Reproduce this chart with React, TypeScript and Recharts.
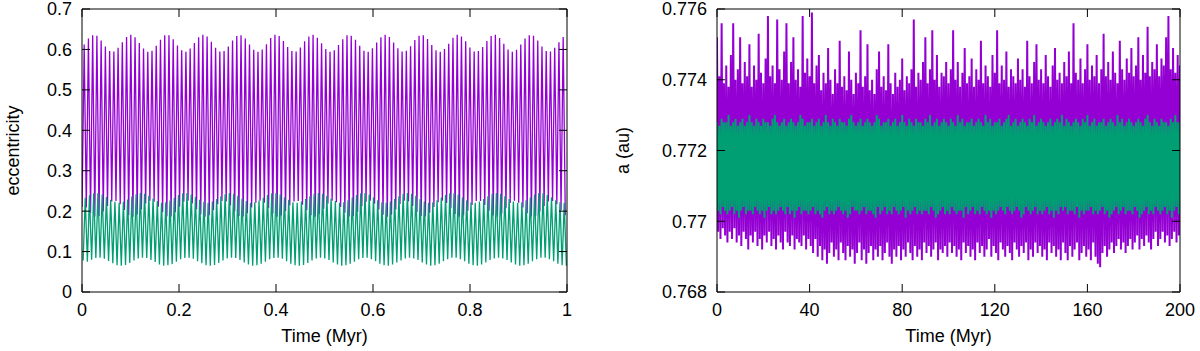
import { LineChart, Line, XAxis, YAxis } from 'recharts';

const FONT = '"Liberation Sans", Arial, Helvetica, sans-serif';
const FS = 18;
const TICK_LEN = 8;
const PURPLE = '#9400d3';
const GREEN = '#009e73';

// ---- left panel: eccentricity, one peak + one trough per cycle ----
const eccStep = 0.00874; // Myr between successive peaks
const purpleFirstPeak = 0.0045;
const greenFirstPeak = 0.0067;

const purplePeaks = [
  0.612, 0.627, 0.635, 0.634, 0.622, 0.607, 0.596, 0.595, 0.604, 0.618,
  0.631, 0.636, 0.630, 0.616, 0.602, 0.594, 0.597, 0.609, 0.624, 0.635,
  0.635, 0.625, 0.610, 0.598, 0.594, 0.602, 0.616, 0.630, 0.636, 0.632,
  0.619, 0.604, 0.595, 0.596, 0.607, 0.622, 0.633, 0.635, 0.627, 0.612,
  0.599, 0.594, 0.600, 0.613, 0.628, 0.636, 0.633, 0.621, 0.606, 0.596,
  0.595, 0.605, 0.620, 0.632, 0.636, 0.629, 0.615, 0.601, 0.594, 0.598,
  0.611, 0.625, 0.635, 0.634, 0.624, 0.609, 0.597, 0.594, 0.603, 0.617,
  0.630, 0.636, 0.631, 0.617, 0.603, 0.595, 0.597, 0.608, 0.623, 0.634,
  0.635, 0.626, 0.611, 0.598, 0.594, 0.601, 0.614, 0.629, 0.636, 0.632,
  0.620, 0.605, 0.595, 0.596, 0.606, 0.621, 0.633, 0.636, 0.628, 0.614,
  0.600, 0.594, 0.599, 0.612, 0.627, 0.635, 0.634, 0.622, 0.607, 0.596,
  0.595, 0.604, 0.618, 0.631,
];
const purpleTroughs = [
  0.210,
  0.209, 0.195, 0.187, 0.188, 0.199, 0.213, 0.224, 0.225, 0.217, 0.203,
  0.190, 0.186, 0.192, 0.205, 0.219, 0.226, 0.223, 0.211, 0.197, 0.187,
  0.187, 0.197, 0.211, 0.223, 0.226, 0.219, 0.205, 0.192, 0.186, 0.190,
  0.202, 0.217, 0.225, 0.224, 0.214, 0.199, 0.188, 0.187, 0.195, 0.209,
  0.221, 0.226, 0.221, 0.208, 0.194, 0.186, 0.189, 0.200, 0.214, 0.224,
  0.225, 0.216, 0.202, 0.190, 0.186, 0.193, 0.206, 0.219, 0.226, 0.222,
  0.210, 0.196, 0.187, 0.188, 0.198, 0.212, 0.223, 0.226, 0.218, 0.204,
  0.191, 0.186, 0.191, 0.204, 0.218, 0.226, 0.224, 0.213, 0.198, 0.188,
  0.187, 0.196, 0.210, 0.222, 0.226, 0.220, 0.207, 0.193, 0.186, 0.189,
  0.201, 0.215, 0.225, 0.225, 0.215, 0.201, 0.189, 0.186, 0.194, 0.207,
  0.220, 0.226, 0.221, 0.209, 0.195, 0.187, 0.188, 0.199, 0.213, 0.224,
  0.225, 0.217, 0.203, 0.190,
];
const greenPeaks = [
  0.233, 0.239, 0.244, 0.245, 0.241, 0.235, 0.228, 0.223, 0.221, 0.223,
  0.229, 0.236, 0.242, 0.245, 0.243, 0.238, 0.231, 0.225, 0.221, 0.222,
  0.226, 0.233, 0.240, 0.244, 0.245, 0.241, 0.235, 0.228, 0.223, 0.221,
  0.224, 0.230, 0.237, 0.242, 0.245, 0.243, 0.238, 0.231, 0.225, 0.221,
  0.222, 0.226, 0.233, 0.240, 0.244, 0.245, 0.241, 0.234, 0.228, 0.222,
  0.221, 0.224, 0.230, 0.237, 0.243, 0.245, 0.243, 0.238, 0.231, 0.225,
  0.221, 0.222, 0.227, 0.234, 0.240, 0.244, 0.245, 0.241, 0.234, 0.227,
  0.222, 0.221, 0.224, 0.230, 0.237, 0.243, 0.245, 0.243, 0.238, 0.230,
  0.224, 0.221, 0.222, 0.227, 0.234, 0.240, 0.244, 0.244, 0.241, 0.234,
  0.227, 0.222, 0.221, 0.224, 0.230, 0.237, 0.243, 0.245, 0.243, 0.237,
  0.230, 0.224, 0.221, 0.222, 0.227, 0.234, 0.241, 0.245, 0.244, 0.240,
  0.234, 0.227, 0.222, 0.221,
];
const greenTroughs = [
  0.078,
  0.075, 0.080, 0.084, 0.085, 0.082, 0.077, 0.071, 0.066, 0.065, 0.067,
  0.072, 0.078, 0.083, 0.085, 0.084, 0.079, 0.074, 0.068, 0.065, 0.066,
  0.069, 0.075, 0.081, 0.084, 0.085, 0.082, 0.076, 0.071, 0.066, 0.065,
  0.067, 0.072, 0.078, 0.083, 0.085, 0.084, 0.079, 0.073, 0.068, 0.065,
  0.066, 0.070, 0.075, 0.081, 0.084, 0.085, 0.082, 0.076, 0.070, 0.066,
  0.065, 0.067, 0.072, 0.078, 0.083, 0.085, 0.083, 0.079, 0.073, 0.068,
  0.065, 0.066, 0.070, 0.075, 0.081, 0.084, 0.085, 0.081, 0.076, 0.070,
  0.066, 0.065, 0.068, 0.073, 0.078, 0.083, 0.085, 0.083, 0.079, 0.073,
  0.068, 0.065, 0.066, 0.070, 0.076, 0.081, 0.085, 0.085, 0.081, 0.076,
  0.070, 0.066, 0.065, 0.068, 0.073, 0.079, 0.083, 0.085, 0.083, 0.079,
  0.073, 0.068, 0.065, 0.066, 0.070, 0.076, 0.081, 0.085, 0.085, 0.081,
  0.076, 0.070, 0.066, 0.065,
];

const eccTicks = [0, 0.1, 0.2, 0.3, 0.4, 0.5, 0.6, 0.7];
const eccTickLabels = ['0', '0.1', '0.2', '0.3', '0.4', '0.5', '0.6', '0.7'];
const shortTimeTicks = [0, 0.2, 0.4, 0.6, 0.8, 1];
const shortTimeLabels = ['0', '0.2', '0.4', '0.6', '0.8', '1'];

// ---- right panel: semi-major axis, sampled every 1 Myr (hi at t, lo at t+0.5) ----
const aStep = 1;
const purpleHi = [
  0.7752, 0.7741, 0.7756, 0.7739, 0.7744, 0.7738, 0.7747, 0.7756, 0.7740, 0.7743,
  0.7752, 0.7739, 0.7745, 0.7741, 0.7750, 0.7738, 0.7744, 0.7740, 0.7753, 0.7742,
  0.7739, 0.7746, 0.7758, 0.7741, 0.7744, 0.7739, 0.7757, 0.7743, 0.7740, 0.7748,
  0.7756, 0.7739, 0.7745, 0.7752, 0.7740, 0.7743, 0.7738, 0.7758, 0.7742, 0.7746,
  0.7741, 0.7759, 0.7739, 0.7744, 0.7747, 0.7737, 0.7742, 0.7739, 0.7749, 0.7740,
  0.7736, 0.7743, 0.7739, 0.7751, 0.7738, 0.7741, 0.7737, 0.7748, 0.7740, 0.7736,
  0.7742, 0.7739, 0.7754, 0.7738, 0.7741, 0.7750, 0.7737, 0.7740, 0.7736, 0.7743,
  0.7748, 0.7738, 0.7741, 0.7737, 0.7750, 0.7739, 0.7736, 0.7742, 0.7738, 0.7740,
  0.7746, 0.7737, 0.7741, 0.7739, 0.7743, 0.7757, 0.7738, 0.7742, 0.7740, 0.7745,
  0.7752, 0.7739, 0.7743, 0.7754, 0.7740, 0.7747, 0.7738, 0.7742, 0.7741, 0.7745,
  0.7739, 0.7743, 0.7754, 0.7740, 0.7745, 0.7738, 0.7742, 0.7749, 0.7739, 0.7741,
  0.7746, 0.7738, 0.7743, 0.7740, 0.7751, 0.7739, 0.7744, 0.7741, 0.7738, 0.7747,
  0.7742, 0.7754, 0.7739, 0.7744, 0.7740, 0.7748, 0.7738, 0.7743, 0.7741, 0.7739,
  0.7746, 0.7740, 0.7743, 0.7738, 0.7751, 0.7741, 0.7739, 0.7745, 0.7750, 0.7740,
  0.7743, 0.7739, 0.7747, 0.7741, 0.7738, 0.7744, 0.7749, 0.7740, 0.7742, 0.7739,
  0.7745, 0.7741, 0.7748, 0.7739, 0.7756, 0.7742, 0.7740, 0.7746, 0.7739, 0.7743,
  0.7750, 0.7740, 0.7744, 0.7741, 0.7747, 0.7739, 0.7743, 0.7753, 0.7741, 0.7745,
  0.7740, 0.7748, 0.7742, 0.7739, 0.7751, 0.7743, 0.7740, 0.7746, 0.7742, 0.7749,
  0.7741, 0.7744, 0.7752, 0.7740, 0.7747, 0.7742, 0.7755, 0.7741, 0.7745, 0.7743,
  0.7750, 0.7741, 0.7746, 0.7744, 0.7752, 0.7758, 0.7743, 0.7749, 0.7742, 0.7747,
  0.7744,
];
const purpleLo = [
  0.7697, 0.7695, 0.7698, 0.7696, 0.7694, 0.7697, 0.7695, 0.7698, 0.7694, 0.7696,
  0.7693, 0.7697, 0.7695, 0.7692, 0.7696, 0.7694, 0.7697, 0.7693, 0.7695, 0.7692,
  0.7696, 0.7694, 0.7697, 0.7693, 0.7695, 0.7692, 0.7696, 0.7694, 0.7692, 0.7697,
  0.7694, 0.7693, 0.7696, 0.7692, 0.7695, 0.7694, 0.7693, 0.7696, 0.7692, 0.7695,
  0.7693, 0.7691, 0.7695, 0.7690, 0.7693, 0.7689, 0.7692, 0.7688, 0.7691, 0.7694,
  0.7690, 0.7692, 0.7689, 0.7694, 0.7691, 0.7689, 0.7693, 0.7690, 0.7692, 0.7688,
  0.7691, 0.7694, 0.7689, 0.7692, 0.7688, 0.7691, 0.7693, 0.7689, 0.7692, 0.7690,
  0.7693, 0.7689, 0.7691, 0.7694, 0.7690, 0.7688, 0.7692, 0.7690, 0.7693, 0.7689,
  0.7692, 0.7690, 0.7694, 0.7691, 0.7689, 0.7693, 0.7690, 0.7692, 0.7689, 0.7694,
  0.7691, 0.7693, 0.7690, 0.7692, 0.7694, 0.7689, 0.7692, 0.7691, 0.7693, 0.7690,
  0.7694, 0.7691, 0.7693, 0.7690, 0.7692, 0.7689, 0.7694, 0.7691, 0.7693, 0.7690,
  0.7692, 0.7689, 0.7694, 0.7691, 0.7693, 0.7690, 0.7692, 0.7695, 0.7690, 0.7693,
  0.7691, 0.7689, 0.7694, 0.7692, 0.7690, 0.7693, 0.7691, 0.7689, 0.7694, 0.7692,
  0.7690, 0.7693, 0.7691, 0.7694, 0.7689, 0.7692, 0.7690, 0.7694, 0.7691, 0.7693,
  0.7690, 0.7692, 0.7689, 0.7694, 0.7691, 0.7693, 0.7690, 0.7692, 0.7689, 0.7694,
  0.7691, 0.7689, 0.7693, 0.7690, 0.7692, 0.7694, 0.7689, 0.7691, 0.7693, 0.7690,
  0.7692, 0.7689, 0.7694, 0.7690, 0.7688, 0.7687, 0.7691, 0.7693, 0.7690, 0.7692,
  0.7694, 0.7691, 0.7693, 0.7695, 0.7692, 0.7694, 0.7691, 0.7693, 0.7695, 0.7692,
  0.7694, 0.7696, 0.7692, 0.7695, 0.7693, 0.7696, 0.7694, 0.7692, 0.7695, 0.7697,
  0.7693, 0.7695, 0.7697, 0.7694, 0.7696, 0.7693, 0.7695, 0.7697, 0.7694, 0.7696,
];
const greenHi = [
  0.7728, 0.7727, 0.7729, 0.7728, 0.7728, 0.7730, 0.7727, 0.7728, 0.7729, 0.7727,
  0.7728, 0.7729, 0.7727, 0.7728, 0.7730, 0.7728, 0.7727, 0.7729, 0.7728, 0.7727,
  0.7729, 0.7728, 0.7728, 0.7727, 0.7729, 0.7730, 0.7728, 0.7727, 0.7728, 0.7729,
  0.7727, 0.7728, 0.7729, 0.7728, 0.7727, 0.7728, 0.7730, 0.7729, 0.7727, 0.7728,
  0.7728, 0.7729, 0.7727, 0.7728, 0.7729, 0.7727, 0.7728, 0.7730, 0.7728, 0.7727,
  0.7729, 0.7728, 0.7727, 0.7729, 0.7728, 0.7728, 0.7727, 0.7729, 0.7730, 0.7728,
  0.7727, 0.7728, 0.7729, 0.7727, 0.7728, 0.7729, 0.7728, 0.7727, 0.7728, 0.7730,
  0.7729, 0.7727, 0.7728, 0.7728, 0.7729, 0.7727, 0.7728, 0.7729, 0.7727, 0.7728,
  0.7730, 0.7728, 0.7727, 0.7729, 0.7728, 0.7727, 0.7729, 0.7728, 0.7728, 0.7727,
  0.7729, 0.7728, 0.7730, 0.7727, 0.7728, 0.7729, 0.7727, 0.7728, 0.7729, 0.7728,
  0.7727, 0.7729, 0.7728, 0.7727, 0.7730, 0.7728, 0.7729, 0.7727, 0.7728, 0.7728,
  0.7729, 0.7727, 0.7728, 0.7729, 0.7728, 0.7727, 0.7730, 0.7728, 0.7729, 0.7727,
  0.7728, 0.7728, 0.7729, 0.7727, 0.7728, 0.7729, 0.7730, 0.7727, 0.7728, 0.7729,
  0.7727, 0.7728, 0.7729, 0.7728, 0.7727, 0.7729, 0.7728, 0.7730, 0.7727, 0.7728,
  0.7729, 0.7728, 0.7727, 0.7728, 0.7729, 0.7727, 0.7728, 0.7729, 0.7728, 0.7730,
  0.7727, 0.7729, 0.7728, 0.7727, 0.7728, 0.7729, 0.7728, 0.7727, 0.7729, 0.7728,
  0.7730, 0.7727, 0.7728, 0.7729, 0.7727, 0.7728, 0.7728, 0.7729, 0.7727, 0.7728,
  0.7729, 0.7728, 0.7727, 0.7730, 0.7728, 0.7729, 0.7727, 0.7728, 0.7729, 0.7728,
  0.7727, 0.7728, 0.7729, 0.7728, 0.7727, 0.7729, 0.7730, 0.7728, 0.7727, 0.7729,
  0.7728, 0.7727, 0.7729, 0.7728, 0.7728, 0.7727, 0.7729, 0.7728, 0.7730, 0.7728,
  0.7728,
];
const greenLo = [
  0.7703, 0.7702, 0.7704, 0.7703, 0.7702, 0.7703, 0.7704, 0.7702, 0.7703, 0.7701,
  0.7703, 0.7704, 0.7702, 0.7703, 0.7703, 0.7702, 0.7704, 0.7703, 0.7702, 0.7703,
  0.7701, 0.7703, 0.7704, 0.7702, 0.7703, 0.7702, 0.7703, 0.7704, 0.7703, 0.7702,
  0.7704, 0.7702, 0.7703, 0.7701, 0.7703, 0.7704, 0.7702, 0.7703, 0.7703, 0.7702,
  0.7703, 0.7704, 0.7702, 0.7703, 0.7702, 0.7701, 0.7703, 0.7704, 0.7702, 0.7703,
  0.7702, 0.7703, 0.7704, 0.7703, 0.7702, 0.7703, 0.7701, 0.7702, 0.7704, 0.7703,
  0.7703, 0.7702, 0.7703, 0.7704, 0.7702, 0.7703, 0.7703, 0.7702, 0.7701, 0.7704,
  0.7702, 0.7703, 0.7704, 0.7702, 0.7703, 0.7702, 0.7704, 0.7703, 0.7702, 0.7703,
  0.7704, 0.7701, 0.7703, 0.7702, 0.7703, 0.7704, 0.7702, 0.7703, 0.7702, 0.7703,
  0.7703, 0.7702, 0.7704, 0.7703, 0.7701, 0.7702, 0.7703, 0.7704, 0.7702, 0.7703,
  0.7702, 0.7704, 0.7703, 0.7702, 0.7703, 0.7703, 0.7701, 0.7704, 0.7702, 0.7703,
  0.7704, 0.7702, 0.7703, 0.7702, 0.7704, 0.7703, 0.7702, 0.7703, 0.7701, 0.7703,
  0.7702, 0.7703, 0.7704, 0.7703, 0.7702, 0.7704, 0.7703, 0.7702, 0.7703, 0.7704,
  0.7703, 0.7701, 0.7702, 0.7704, 0.7703, 0.7702, 0.7703, 0.7704, 0.7702, 0.7703,
  0.7702, 0.7703, 0.7704, 0.7702, 0.7703, 0.7701, 0.7703, 0.7702, 0.7704, 0.7703,
  0.7704, 0.7702, 0.7703, 0.7703, 0.7702, 0.7704, 0.7701, 0.7703, 0.7702, 0.7703,
  0.7703, 0.7704, 0.7702, 0.7703, 0.7702, 0.7703, 0.7704, 0.7702, 0.7703, 0.7701,
  0.7702, 0.7703, 0.7704, 0.7702, 0.7703, 0.7704, 0.7702, 0.7703, 0.7703, 0.7702,
  0.7704, 0.7703, 0.7701, 0.7702, 0.7703, 0.7704, 0.7702, 0.7703, 0.7702, 0.7704,
  0.7703, 0.7702, 0.7703, 0.7704, 0.7702, 0.7703, 0.7701, 0.7703, 0.7704, 0.7702,
];

const aTicks = [0.768, 0.77, 0.772, 0.774, 0.776];
const aTickLabels = ['0.768', '0.77', '0.772', '0.774', '0.776'];
const longTimeTicks = [0, 40, 80, 120, 160, 200];
const longTimeLabels = ['0', '40', '80', '120', '160', '200'];

// alternate first[k] at start + k*step with second[k] half a step later
function zigzag(start: number, step: number, first: number[], second: number[]) {
  const rows: { t: number; v: number }[] = [];
  first.forEach((v, k) => {
    rows.push({ t: start + k * step, v });
    if (k < second.length) rows.push({ t: start + (k + 0.5) * step, v: second[k] });
  });
  return rows;
}

const eccPurple = zigzag(purpleFirstPeak - eccStep / 2, eccStep, purpleTroughs, purplePeaks);
const eccGreen = zigzag(greenFirstPeak - eccStep / 2, eccStep, greenTroughs, greenPeaks);
const aPurple = zigzag(0, aStep, purpleHi, purpleLo);
const aGreen = zigzag(0, aStep, greenHi, greenLo);

const X_GAP = 11; // label top below the bottom axis
const Y_GAP = 10; // label end left of the y axis

// gnuplot style: ticks point into the plot, labels outside
const bottomTick = (labels: string[]) => (props: any) => {
  const axisY = props.y - X_GAP;
  return (
    <g>
      <line x1={props.x} x2={props.x} y1={axisY} y2={axisY - TICK_LEN} stroke="#000" />
      <text x={props.x} y={props.y} dy="0.72em" textAnchor="middle" fontFamily={FONT} fontSize={FS} fill="#000">
        {labels[props.index]}
      </text>
    </g>
  );
};
const leftTick = (labels: string[]) => (props: any) => {
  const axisX = props.x + Y_GAP;
  return (
    <g>
      <line x1={axisX} x2={axisX + TICK_LEN} y1={props.y} y2={props.y} stroke="#000" />
      <text x={props.x} y={props.y} dy="0.36em" textAnchor="end" fontFamily={FONT} fontSize={FS} fill="#000">
        {labels[props.index]}
      </text>
    </g>
  );
};
const topTick = (props: any) => (
  <line x1={props.x} x2={props.x} y1={props.y} y2={props.y + TICK_LEN} stroke="#000" />
);
const rightTick = (props: any) => (
  <line x1={props.x} x2={props.x - TICK_LEN} y1={props.y} y2={props.y} stroke="#000" />
);

const yTitle = (text: string, cx: number) => (props: any) => {
  const vb = props.viewBox || { y: 0, height: 0 };
  const cy = vb.y + vb.height / 2;
  return (
    <text x={cx} y={cy} transform={`rotate(-90, ${cx}, ${cy})`} textAnchor="middle"
      dominantBaseline="central" fontFamily={FONT} fontSize={FS} fill="#000">
      {text}
    </text>
  );
};

interface PanelProps {
  left: number;
  margin: { top: number; right: number; bottom: number; left: number };
  yWidth: number;
  xDomain: [number, number];
  xTicks: number[];
  xLabels: string[];
  yDomain: [number, number];
  yTicks: number[];
  yLabels: string[];
  yTitleText: string;
  yTitleX: number;
  purple: { t: number; v: number }[];
  green: { t: number; v: number }[];
  strokeWidth: number;
}

function Panel(p: PanelProps) {
  return (
    <div style={{ position: 'absolute', left: p.left, top: 0 }}>
      <LineChart width={600} height={351} margin={p.margin}>
        <XAxis dataKey="t" type="number" domain={p.xDomain} ticks={p.xTicks} allowDataOverflow
          interval={0} height={59} stroke="#000" tickSize={0} tickLine={false} tickMargin={X_GAP}
          tick={bottomTick(p.xLabels)}
          label={{ value: 'Time (Myr)', position: 'insideBottom', offset: 9, fontSize: FS, fill: '#000', fontFamily: FONT }} />
        <XAxis xAxisId="top" orientation="top" dataKey="t" type="number" domain={p.xDomain} ticks={p.xTicks}
          allowDataOverflow interval={0} height={1} stroke="#000" tickSize={0} tickMargin={0}
          tickLine={false} tick={topTick} />
        <YAxis type="number" domain={p.yDomain} ticks={p.yTicks} allowDataOverflow interval={0}
          width={p.yWidth} stroke="#000" tickSize={0} tickLine={false} tickMargin={Y_GAP}
          tick={leftTick(p.yLabels)}
          label={{ value: p.yTitleText, content: yTitle(p.yTitleText, p.yTitleX) }} />
        <YAxis yAxisId="right" orientation="right" type="number" domain={p.yDomain} ticks={p.yTicks}
          allowDataOverflow interval={0} width={1} stroke="#000" tickSize={0} tickMargin={0}
          tickLine={false} tick={rightTick} />
        <Line data={p.purple} dataKey="v" type="linear" stroke={PURPLE} strokeWidth={p.strokeWidth}
          dot={false} activeDot={false} isAnimationActive={false} />
        <Line data={p.green} dataKey="v" type="linear" stroke={GREEN} strokeWidth={p.strokeWidth}
          dot={false} activeDot={false} isAnimationActive={false} />
      </LineChart>
    </div>
  );
}

export default function App() {
  return (
    <div style={{ position: 'absolute', left: 0, top: 0, width: 1200, height: 351, background: '#fff' }}>
      <Panel left={0} margin={{ top: 8, right: 32, bottom: 0, left: 32 }} yWidth={50}
        xDomain={[0, 1]} xTicks={shortTimeTicks} xLabels={shortTimeLabels}
        yDomain={[0, 0.7]} yTicks={eccTicks} yLabels={eccTickLabels}
        yTitleText="eccentricity" yTitleX={13}
        purple={eccPurple} green={eccGreen} strokeWidth={1.3} />
      <Panel left={600} margin={{ top: 8, right: 19, bottom: 0, left: 57 }} yWidth={60}
        xDomain={[0, 200]} xTicks={longTimeTicks} xLabels={longTimeLabels}
        yDomain={[0.768, 0.776]} yTicks={aTicks} yLabels={aTickLabels}
        yTitleText="a (au)" yTitleX={23}
        purple={aPurple} green={aGreen} strokeWidth={2} />
    </div>
  );
}
